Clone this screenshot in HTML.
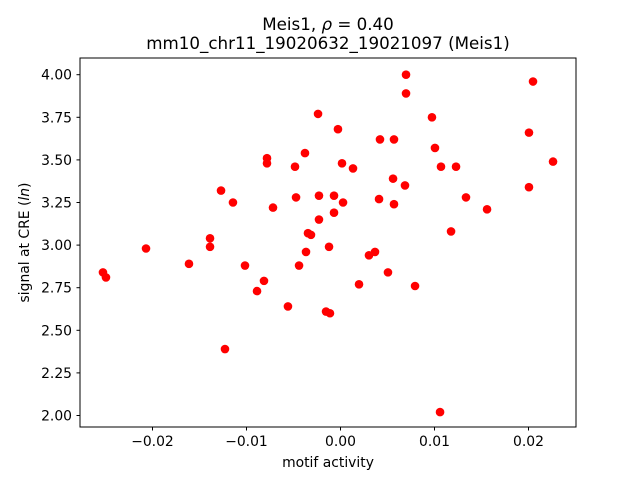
<!DOCTYPE html>
<html><head><meta charset="utf-8"><style>
html,body{margin:0;padding:0;background:#fff;}
svg{display:block;font-family:"DejaVu Sans","Liberation Sans",sans-serif;}
</style></head><body>
<svg id="chart" width="640" height="480" viewBox="0 0 640 480">
<rect width="640" height="480" fill="#fff"/>
<text x="328" y="30" font-size="16.7" text-anchor="middle">Meis1, <tspan font-style="italic">ρ</tspan> = 0.40</text>
<text x="328" y="49" font-size="16.7" text-anchor="middle">mm10_chr11_19020632_19021097 (Meis1)</text>
<g id="points"></g>
<rect x="80" y="58" width="496" height="369" fill="none" stroke="#000" stroke-width="1"/>
<g id="xticks"></g>
<g id="yticks"></g>
<text x="328" y="467" font-size="13.9" text-anchor="middle">motif activity</text>
<text transform="translate(29,242.5) rotate(-90)" font-size="13.9" text-anchor="middle">signal at CRE (<tspan font-style="italic">ln</tspan>)</text>
</svg>
<script>
const xValues=[-0.02527,-0.02495,-0.02069,-0.01612,-0.01388,-0.01388,-0.01271,-0.01144,-0.01229,-0.01016,-0.00888,-0.00814,-0.00782,-0.00782,-0.00718,-0.00559,-0.00484,-0.00473,-0.00441,-0.00378,-0.00367,-0.00346,-0.00314,-0.00239,-0.00229,-0.00229,-0.00154,-0.00112,-0.00122,-0.00069,-0.00069,-0.00027,0.00016,0.00027,0.00133,0.00197,0.00303,0.00367,0.00420,0.00410,0.00505,0.00559,0.00569,0.00569,0.00686,0.00697,0.00697,0.00793,0.00973,0.01005,0.01069,0.01059,0.01176,0.01229,0.01335,0.01559,0.02005,0.02005,0.02048,0.02261];
const yValues=[2.84,2.81,2.98,2.89,3.04,2.99,3.32,3.25,2.39,2.88,2.73,2.79,3.51,3.48,3.22,2.64,3.46,3.28,2.88,3.54,2.96,3.07,3.06,3.77,3.29,3.15,2.61,2.60,2.99,3.29,3.19,3.68,3.48,3.25,3.45,2.77,2.94,2.96,3.62,3.27,2.84,3.39,3.62,3.24,3.35,4.00,3.89,2.76,3.75,3.57,3.46,2.02,3.08,3.46,3.28,3.21,3.66,3.34,3.96,3.49];
const xTickValues=[-0.02,-0.01,0.00,0.01,0.02];
const xTickLabels=["\u22120.02","\u22120.01","0.00","0.01","0.02"];
const yTickValues=[2.00,2.25,2.50,2.75,3.00,3.25,3.50,3.75,4.00];
const yTickLabels=["2.00","2.25","2.50","2.75","3.00","3.25","3.50","3.75","4.00"];
const NS="http://www.w3.org/2000/svg";
function sx(v){return 340.5+v*9400;}
function sy(v){return 74.7+(4-v)*170.4;}
const pts=document.getElementById('points');
xValues.forEach((xv,i)=>{
  const c=document.createElementNS(NS,'circle');
  c.setAttribute('cx',sx(xv));c.setAttribute('cy',sy(yValues[i]));c.setAttribute('r',4.3);c.setAttribute('fill','#ff0000');
  
  
  pts.appendChild(c);
});
const xg=document.getElementById('xticks');
xTickValues.forEach((v,i)=>{
  const x=sx(v);
  const l=document.createElementNS(NS,'line');
  l.setAttribute('x1',x);l.setAttribute('x2',x);l.setAttribute('y1',427);l.setAttribute('y2',430.5);l.setAttribute('stroke','#000');
  
  
  xg.appendChild(l);
  const t=document.createElementNS(NS,'text');
  t.setAttribute('x',x);t.setAttribute('y',446);t.setAttribute('font-size','13.9');t.setAttribute('text-anchor','middle');
  t.textContent=xTickLabels[i];
  
  
  xg.appendChild(t);
});
const yg=document.getElementById('yticks');
yTickValues.forEach((v,i)=>{
  const y=sy(v);
  const l=document.createElementNS(NS,'line');
  l.setAttribute('x1',76.5);l.setAttribute('x2',80);l.setAttribute('y1',y);l.setAttribute('y2',y);l.setAttribute('stroke','#000');
  
  
  yg.appendChild(l);
  const t=document.createElementNS(NS,'text');
  t.setAttribute('x',72);t.setAttribute('y',y+5);t.setAttribute('font-size','13.9');t.setAttribute('text-anchor','end');
  t.textContent=yTickLabels[i];
  
  
  yg.appendChild(t);
});
</script>
</body></html>
